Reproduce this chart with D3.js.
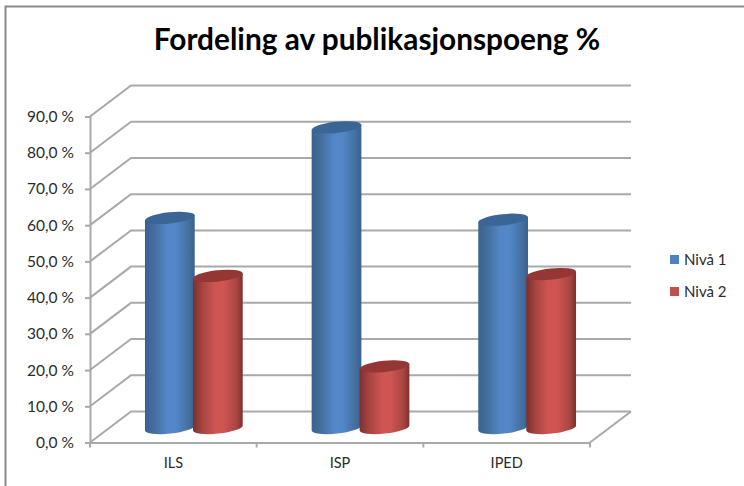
<!DOCTYPE html>
<html><head><meta charset="utf-8">
<script src="https://cdn.jsdelivr.net/npm/d3@7"></script>
<style>html,body{margin:0;padding:0;background:#fff}svg{display:block}text{font-family:Lato,sans-serif}</style>
</head><body><script>
const categories = ["ILS","ISP","IPED"];
const seriesNames = ["Nivå 1","Nivå 2"];
const niva1 = [58,83,57.5];
const niva2 = [42,17,42.5];
const seriesValues = [niva1,niva2];
const tickValues = [0,10,20,30,40,50,60,70,80,90];
const titleText = "Fordeling av publikasjonspoeng %";
const gridColor = "#a9a9a9", textColor = "#2b2b2b";
const seriesStyle = [
 {edge:"#38618f",mid:"#5387c8",near:"#44709f",top:"#3b6596",legend:"#4f81bd"},
 {edge:"#7c302e",mid:"#cf5552",near:"#a84542",top:"#943634",legend:"#c0504d"}
];

const W=744,H=486, dx=41, dy=-31;
const svg=d3.select("body").append("svg").attr("width",W).attr("height",H);
svg.append("rect").attr("width",W).attr("height",H).attr("fill","#fff");
svg.append("path").attr("d",`M5.5,${H}V6.5H${W}`).attr("fill","none").attr("stroke","#8a8a8a").attr("stroke-width",2);
svg.append("text").attr("x",377).attr("y",50).attr("text-anchor","middle")
  .attr("font-size",29.8).attr("font-weight",700).attr("fill","#000").text(titleText);

const y=d3.scaleLinear().domain([0,90]).range([442.5,116.5]);
const x0=d3.scaleBand().domain(categories).range([90,590]);
const x1=d3.scaleBand().domain(seriesNames).range([-48,48]);

const defs=svg.append("defs");
seriesStyle.forEach((s,i)=>{
  const g=defs.append("linearGradient").attr("id","g"+i);
  [[0,s.edge],[.2,s.near],[.45,s.mid],[.62,s.mid],[.88,s.near],[1,s.edge]].forEach(([o,c])=>
    g.append("stop").attr("offset",o).attr("stop-color",c));
});

const grid=svg.append("g").attr("fill","none").attr("stroke",gridColor).attr("stroke-width",2);
tickValues.forEach(t=>{
  const yy=y(t);
  grid.append("path").attr("d",`M90,${yy}L${90+dx},${yy+dy}H${590+dx}`);
});
grid.append("path").attr("d",`M590,${y(0)}L${590+dx},${y(0)+dy}`);

const ax=svg.append("g").attr("transform","translate(90,0)")
  .call(d3.axisLeft(y).tickValues(tickValues).tickSize(5).tickPadding(11)
    .tickFormat(d=>d3.format(".1f")(d).replace(".",",")+" %"));
ax.selectAll("path,line").attr("stroke",gridColor).attr("stroke-width",2);
ax.selectAll("text").attr("font-size",15.5).attr("fill",textColor).attr("font-family","Lato,sans-serif");

const bx=svg.append("g").attr("transform",`translate(0,${y(0)})`)
  .call(d3.axisBottom(x0).tickSize(0).tickPadding(15));
bx.select("path").attr("stroke",gridColor).attr("stroke-width",2);
bx.selectAll("text").attr("font-size",14.5).attr("fill",textColor).attr("font-family","Lato,sans-serif");
const boundaries=[90,...categories.map(c=>x0(c)+x0.bandwidth())];
bx.selectAll("line.b").data(boundaries).join("line").attr("class","b")
  .attr("x1",d=>d).attr("x2",d=>d).attr("y1",0).attr("y2",5)
  .attr("stroke",gridColor).attr("stroke-width",2);

const rx=25, ry=5.6, rot=-6, rad=rot*Math.PI/180;
const ex=rx*Math.cos(rad), ey=rx*Math.sin(rad);
const barsG=svg.append("g");
categories.forEach((c,ci)=>{
  seriesNames.forEach((n,si)=>{
    const v=seriesValues[si][ci];
    const cx=x0(c)+x0.bandwidth()/2+dx/2+x1(n)+x1.bandwidth()/2;
    const base=y(0)+dy/2+1, top=base+(y(v)-y(0));
    barsG.append("path").attr("fill",`url(#g${si})`)
      .attr("d",`M${cx-ex},${top-ey}L${cx-ex},${base-ey}A${rx},${ry} ${rot} 0 0 ${cx+ex},${base+ey}L${cx+ex},${top+ey}Z`);
    barsG.append("ellipse").attr("cx",cx).attr("cy",top).attr("rx",rx).attr("ry",ry)
      .attr("transform",`rotate(${rot} ${cx} ${top})`).attr("fill",seriesStyle[si].top);
  });
});

const leg=svg.append("g");
seriesNames.forEach((n,i)=>{
  const ly=259.5+i*32;
  leg.append("rect").attr("x",670).attr("y",ly-4.5).attr("width",9).attr("height",9).attr("fill",seriesStyle[i].legend);
  leg.append("text").attr("x",684).attr("y",ly+5).attr("font-size",15).attr("fill",textColor).text(n);
});
</script></body></html>
